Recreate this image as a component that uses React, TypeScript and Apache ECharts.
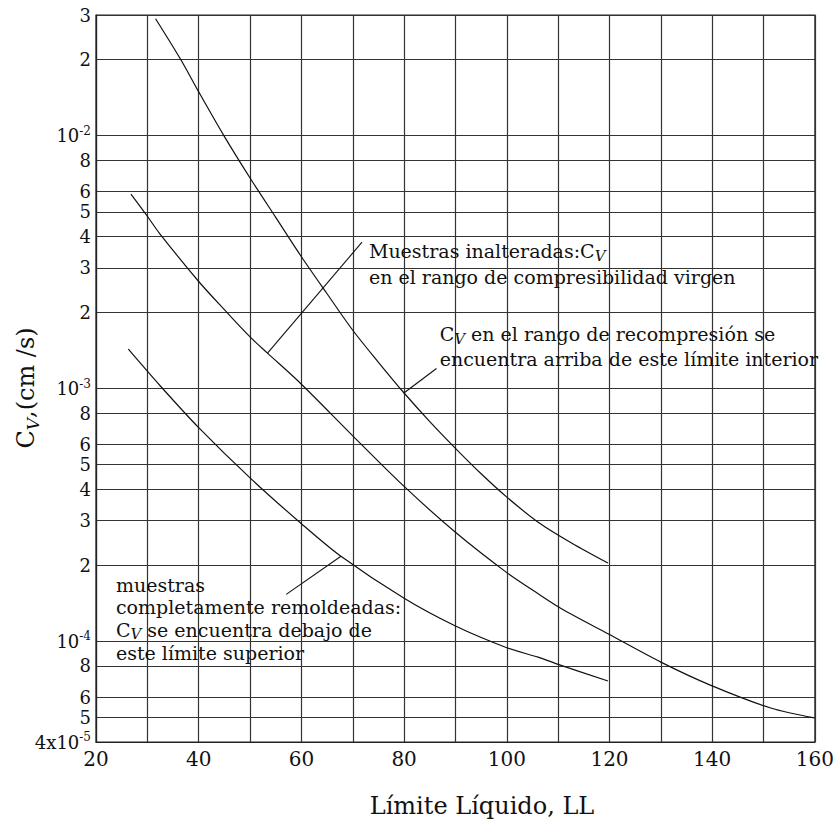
import React, { useEffect, useRef } from 'react';
import * as echarts from 'echarts';

// ---- Axis ticks ----
const xTickLabels = [20, 40, 60, 80, 100, 120, 140, 160];
const yTicks = [3e-2, 2e-2, 1e-2, 8e-3, 6e-3, 5e-3, 4e-3, 3e-3, 2e-3, 1e-3, 8e-4, 6e-4, 5e-4, 4e-4, 3e-4, 2e-4, 1e-4, 8e-5, 6e-5, 5e-5, 4e-5];
const yTickLabels = ['3', '2', '10^-2', '8', '6', '5', '4', '3', '2', '10^-3', '8', '6', '5', '4', '3', '2', '10^-4', '8', '6', '5', '4x10^-5'];

// ---- Curves (Límite Líquido, Cv cm²/s) ----
const upperLL = [31.6, 36.5, 40, 44.9, 50, 55, 60, 65, 70, 75, 80, 85, 90, 95, 100, 106.1, 112.6, 119.7];
const upperCv = [2.9e-2, 2.0e-2, 1.49e-2, 1.0e-2, 6.8e-3, 4.75e-3, 3.32e-3, 2.37e-3, 1.70e-3, 1.27e-3, 9.6e-4, 7.4e-4, 5.8e-4, 4.6e-4, 3.72e-4, 2.96e-4, 2.45e-4, 2.04e-4];

const middleLL = [26.8, 30, 32.4, 40, 45, 50, 53.4, 60, 70, 80, 90, 100, 106.1, 111, 119.7, 130, 139.75, 151.4, 159.9];
const middleCv = [5.87e-3, 4.8e-3, 4.1e-3, 2.65e-3, 2.05e-3, 1.6e-3, 1.38e-3, 1.04e-3, 6.5e-4, 4.1e-4, 2.7e-4, 1.87e-4, 1.543e-4, 1.334e-4, 1.072e-4, 8.28e-5, 6.7e-5, 5.45e-5, 4.98e-5];

const lowerLL = [26.3, 32.4, 40, 50, 60, 67.7, 80, 90, 100, 106.1, 110, 119.7];
const lowerCv = [1.43e-3, 1.03e-3, 7.0e-4, 4.43e-4, 2.92e-4, 2.17e-4, 1.48e-4, 1.15e-4, 9.44e-5, 8.66e-5, 8.11e-5, 6.97e-5];

// ---- Leader lines (data coordinates) ----
const leaderFromLL = [53.4, 79.9, 57.05];
const leaderFromCv = [1.38e-3, 9.58e-4, 1.534e-4];
const leaderToLL = [71.8, 86.3, 67.7];
const leaderToCv = [3.79e-3, 1.2e-3, 2.17e-4];

// ---- Annotation texts (anchor = left / middle of first line, in data coordinates) ----
const annotationLL = [73.15, 86.93, 23.88];
const annotationCv = [3.5e-3, 1.649e-3, 1.675e-4];
const annotationLines = [
  ['Muestras inalteradas:C_V', 'en el rango de compresibilidad virgen'],
  ['C_V en el rango de recompresión se', 'encuentra arriba de este límite interior'],
  ['muestras', 'completamente remoldeadas:', 'C_V se encuentra debajo de', 'este límite superior'],
];
const annotationLineHeight = [26, 25, 22.7];

const FONT = '"DejaVu Serif", "Liberation Serif", serif';
const INK = '#111';

const zip = (xs: number[], ys: number[]) => xs.map((x, i) => [x, ys[i]]);

const toRich = (line: string) =>
  line
    .split('C_V')
    .map((p) => (p ? `{n|${p}}` : ''))
    .join('{n|C}{sub|V}');

const yLabelFormatter = (v: number) => {
  const i = yTicks.findIndex((t) => Math.abs(Math.log10(t) - Math.log10(v)) < 1e-4);
  const s = i >= 0 ? yTickLabels[i] : '';
  if (s.includes('^')) {
    const [b, e] = s.split('^');
    return `{b|${b}}{sup|${e}}`;
  }
  return `{b|${s}}`;
};

export default function App() {
  const ref = useRef<HTMLDivElement>(null);

  useEffect(() => {
    if (!ref.current) return;
    const chart = echarts.init(ref.current, null, { renderer: 'svg' });
    const gridLine = { show: true, lineStyle: { color: '#333', width: 1.2, type: 'solid' as const } };

    const option: any = {
      animation: false,
      grid: { left: 96, right: 19, top: 15, bottom: 87, show: true, borderColor: '#222', borderWidth: 1.2, containLabel: false },
      xAxis: {
        type: 'value',
        min: 20,
        max: 160,
        interval: 10,
        axisLine: { show: true, lineStyle: { color: '#222', width: 1.2 } },
        axisTick: { show: false },
        axisLabel: {
          formatter: (v: number) => (xTickLabels.includes(v) ? String(v) : ''),
          fontFamily: FONT,
          fontSize: 20,
          color: INK,
          margin: 7,
          showMinLabel: true,
          showMaxLabel: true,
        },
        splitLine: gridLine,
      },
      yAxis: {
        type: 'log',
        logBase: 10,
        min: 4e-5,
        max: 3e-2,
        axisLine: { show: true, lineStyle: { color: '#222', width: 1.2 } },
        axisTick: { show: false, customValues: yTicks },
        axisLabel: {
          customValues: yTicks,
          formatter: yLabelFormatter,
          margin: 5,
          showMinLabel: true,
          showMaxLabel: true,
          rich: {
            b: { fontFamily: FONT, fontSize: 18, lineHeight: 22, color: INK },
            sup: { fontFamily: FONT, fontSize: 12, lineHeight: 12, verticalAlign: 'top', color: INK },
          },
        },
        splitLine: gridLine,
      },
      series: [
        {
          type: 'line',
          data: zip(upperLL, upperCv),
          showSymbol: false,
          smooth: 0.3,
          lineStyle: { color: INK, width: 1.2 },
          silent: true,
        },
        {
          type: 'line',
          data: zip(middleLL, middleCv),
          showSymbol: false,
          smooth: 0.3,
          lineStyle: { color: INK, width: 1.2 },
          silent: true,
          markLine: {
            silent: true,
            symbol: ['none', 'none'],
            label: { show: false },
            lineStyle: { color: INK, width: 1.1, type: 'solid' },
            data: leaderFromLL.map((x, i) => [
              { coord: [x, leaderFromCv[i]] },
              { coord: [leaderToLL[i], leaderToCv[i]] },
            ]),
          },
        },
        {
          type: 'line',
          data: zip(lowerLL, lowerCv),
          showSymbol: false,
          smooth: 0.3,
          lineStyle: { color: INK, width: 1.2 },
          silent: true,
        },
      ],
    };
    chart.setOption(option);

    const texts = annotationLines.map((lines, i) => {
      const [px, py] = chart.convertToPixel({ gridIndex: 0 }, [annotationLL[i], annotationCv[i]]) as number[];
      const L = annotationLineHeight[i];
      return {
        type: 'text',
        x: px,
        y: py - L / 2,
        silent: true,
        style: {
          text: lines.map(toRich).join('\n'),
          align: 'left',
          verticalAlign: 'top',
          fill: INK,
          rich: {
            n: { fontFamily: FONT, fontSize: 19, lineHeight: L, fill: INK, color: INK },
            sub: { fontFamily: FONT, fontSize: 15, fontStyle: 'italic', lineHeight: L - 13, verticalAlign: 'bottom', fill: INK, color: INK },
          },
        },
      };
    });

    chart.setOption({
      graphic: [
        ...texts,
        {
          type: 'text',
          x: 26,
          y: 388,
          rotation: Math.PI / 2,
          silent: true,
          style: {
            text: '{n|C}{sub|V}{n|,(cm /s)}',
            align: 'center',
            verticalAlign: 'middle',
            fill: INK,
            rich: {
              n: { fontFamily: FONT, fontSize: 24, lineHeight: 30, fill: INK, color: INK },
              sub: { fontFamily: FONT, fontSize: 17, fontStyle: 'italic', lineHeight: 14, verticalAlign: 'bottom', fill: INK, color: INK },
            },
          },
        },
        {
          type: 'text',
          x: 482,
          y: 806,
          silent: true,
          style: {
            text: 'Límite Líquido, LL',
            fontFamily: FONT,
            fontSize: 24,
            align: 'center',
            verticalAlign: 'middle',
            fill: INK,
          },
        },
      ],
    });

    return () => chart.dispose();
  }, []);

  return <div ref={ref} style={{ position: 'absolute', left: 0, top: 0, width: 837, height: 829 }} />;
}
